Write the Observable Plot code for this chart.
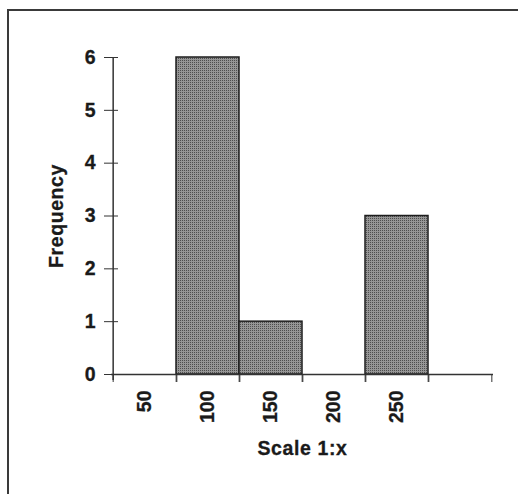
<!DOCTYPE html>
<html>
<head>
<meta charset="utf-8">
<script src="https://cdn.jsdelivr.net/npm/d3@7"></script>
<script src="https://cdn.jsdelivr.net/npm/@observablehq/plot@0.6"></script>
<style>
  html, body { margin: 0; padding: 0; background: #fff; width: 518px; height: 494px; overflow: hidden; }
  #wrap { position: relative; width: 518px; height: 494px; }
  #border { position: absolute; left: 7px; top: 9px; width: 600px; height: 600px;
            border-top: 2px solid #3a3a3a; border-left: 2px solid #3a3a3a; }
  #chart { position: absolute; left: 0; top: 0; }
  #chart svg text { font-family: "Liberation Sans", Arial, sans-serif; font-weight: bold; font-size: 19.5px;
                    fill: #1a1a1a; stroke: #1a1a1a; stroke-width: 0.3px; }
  #chart svg g[aria-label="x-axis label"] text,
  #chart svg g[aria-label="y-axis label"] text { letter-spacing: 0.6px; }
</style>
</head>
<body>
<div id="wrap"><div id="border"></div><div id="chart"></div></div>
<script>
const categories = ["50", "100", "150", "200", "250", "More"];
const tickLabels = ["50", "100", "150", "200", "250", ""];
const counts = [0, 6, 1, 0, 3, 0];
const yTicks = [0, 1, 2, 3, 4, 5, 6];
const xTitle = "Scale 1:x";
const yTitle = "Frequency";

const data = categories.map((c, i) => ({category: c, count: counts[i]}));

const W = 518, H = 494;
const mL = 111, mR = 25, mT = 57, mB = 120;
const bw = (W - mL - mR) / categories.length;
const labelMap = new Map(categories.map((c, i) => [c, tickLabels[i]]));

const chart = Plot.plot({
  width: W,
  height: H,
  marginLeft: mL,
  marginRight: mR,
  marginTop: mT,
  marginBottom: mB,
  style: {fontFamily: "'Liberation Sans', Arial, sans-serif", fontWeight: "bold", color: "#222", background: "transparent"},
  x: {type: "band", domain: categories, padding: 0, label: null},
  y: {domain: [0, 6], label: null},
  marks: [
    Plot.barY(data, {x: "category", y: "count", fill: "url(#stipple)", stroke: "#1e1e1e", strokeWidth: 1.5}),
    Plot.ruleY([0], {stroke: "#333", strokeWidth: 1.5}),
    Plot.ruleX([categories[0]], {dx: -bw / 2, stroke: "#333", strokeWidth: 1.5, insetBottom: -6}),
    Plot.axisY({ticks: yTicks, tickSize: 14, dx: 7, tickFormat: () => "", label: null, stroke: "#333"}),
    Plot.axisY({ticks: yTicks, tickSize: 0, tickPadding: 16, tickFormat: d => String(d),
      label: yTitle, labelAnchor: "center", labelOffset: 62, labelArrow: "none"}),
    Plot.axisX({tickSize: 8, dx: bw / 2, tickFormat: () => "", label: null, stroke: "#333"}),
    Plot.axisX({tickSize: 8, dx: -bw / 2, tickFormat: () => "", label: null, stroke: "#333"}),
    Plot.axisX({tickSize: 0, tickPadding: 16, tickRotate: -90, tickFormat: d => labelMap.get(d),
      label: xTitle, labelAnchor: "center", labelOffset: 80, labelArrow: "none"})
  ]
});
const svgNS = "http://www.w3.org/2000/svg";
const defs = document.createElementNS(svgNS, "defs");
defs.innerHTML = '<pattern id="stipple" width="2" height="2" patternUnits="userSpaceOnUse">' +
  '<rect width="2" height="2" fill="#969696"></rect><rect width="1" height="1" fill="#4e4e4e"></rect></pattern>';
chart.insertBefore(defs, chart.firstChild);
document.getElementById("chart").appendChild(chart);
</script>
</body>
</html>
